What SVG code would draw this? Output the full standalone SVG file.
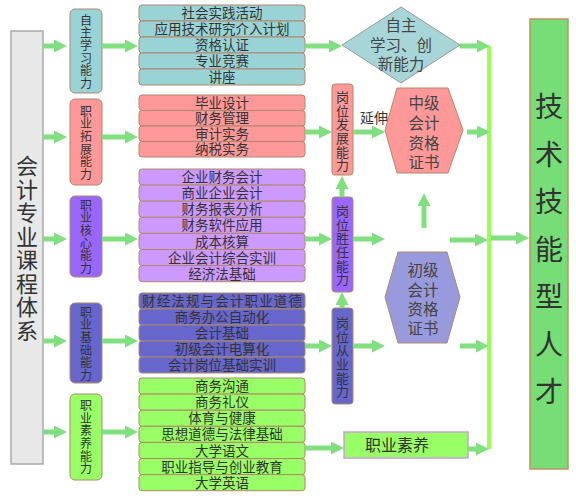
<svg xmlns="http://www.w3.org/2000/svg" width="576" height="500" viewBox="0 0 576 500">
<style>
text{font-family:"Noto Sans CJK SC","Liberation Sans",sans-serif;fill:#333;text-anchor:middle}
.v{writing-mode:vertical-rl}
.row{stroke:#b08868;stroke-width:1}
.t{fill:#99d3d6}.r{fill:#ff9999}.p{fill:#cc99ff}.b{fill:#6666cc}.g{fill:#99ff66}
.cp{font-size:12px;letter-spacing:0.6px}
.rt{font-size:13.5px;font-family:"Liberation Sans","Noto Sans CJK SC",sans-serif}
.ml{font-size:15.5px;font-family:"Liberation Sans","Noto Sans CJK SC",sans-serif;fill:#444}
.vb{font-size:13px;letter-spacing:0.6px}
.ar{stroke:#80e080;stroke-width:5;fill:none;marker-end:url(#ah)}
</style>
<defs>
<marker id="ah" markerUnits="userSpaceOnUse" markerWidth="13" markerHeight="13" refX="0" refY="6.5" orient="auto">
<path d="M0,0 L13,6.5 L0,13 Z" fill="#80e080"/>
</marker>
</defs>
<rect x="0" y="0" width="576" height="500" fill="#fff"/>

<g id="root">
<rect x="11" y="31" width="32" height="433" fill="#e8e8e8" stroke="#aaa" stroke-width="1.5"/>
<text class="v" x="27" y="249" style="font-size:22px;letter-spacing:1.5px" fill="#222">会计专业课程体系</text>
</g>

<g id="c1"><rect class="row t" x="70" y="9" width="32" height="84" rx="5"/>
<text class="v cp" x="86" y="52">自主学习能力</text></g>
<g id="c2"><rect class="row r" x="70" y="99" width="32" height="86" rx="5"/>
<text class="v cp" x="86" y="143">职业拓展能力</text></g>
<g id="c3"><rect class="row" fill="#9966ff" x="70" y="196" width="32" height="81" rx="5"/>
<text class="v cp" x="86" y="237">职业核心能力</text></g>
<g id="c4"><rect class="row b" x="70" y="303" width="32" height="80" rx="5"/>
<text class="v cp" x="86" y="344">职业基础能力</text></g>
<g id="c5"><rect class="row g" x="70" y="394" width="32" height="86" rx="5"/>
<text class="v cp" x="86" y="437.5">职业素养能力</text></g>

<g id="list1">
<rect class="row t" x="139" y="5" width="166" height="16" rx="3"/><text class="rt" x="222" y="18">社会实践活动</text>
<rect class="row t" x="139" y="21" width="166" height="16" rx="3"/><text class="rt" x="222" y="34">应用技术研究介入计划</text>
<rect class="row t" x="139" y="37" width="166" height="16" rx="3"/><text class="rt" x="222" y="50">资格认证</text>
<rect class="row t" x="139" y="53" width="166" height="16" rx="3"/><text class="rt" x="222" y="66">专业竞赛</text>
<rect class="row t" x="139" y="69" width="166" height="16" rx="3"/><text class="rt" x="222" y="82">讲座</text>
</g>
<g id="list2">
<rect class="row r" x="139" y="95" width="166" height="15.5" rx="3"/><text class="rt" x="222" y="107.5">毕业设计</text>
<rect class="row r" x="139" y="110.5" width="166" height="15.5" rx="3"/><text class="rt" x="222" y="123">财务管理</text>
<rect class="row r" x="139" y="126" width="166" height="15.5" rx="3"/><text class="rt" x="222" y="138.5">审计实务</text>
<rect class="row r" x="139" y="141.5" width="166" height="15.5" rx="3"/><text class="rt" x="222" y="154">纳税实务</text>
</g>
<g id="list3">
<rect class="row p" x="139" y="169" width="166" height="16.1" rx="3"/><text class="rt" x="222" y="182">企业财务会计</text>
<rect class="row p" x="139" y="185.1" width="166" height="16.1" rx="3"/><text class="rt" x="222" y="198">商业企业会计</text>
<rect class="row p" x="139" y="201.2" width="166" height="16.1" rx="3"/><text class="rt" x="222" y="214">财务报表分析</text>
<rect class="row p" x="139" y="217.3" width="166" height="16.1" rx="3"/><text class="rt" x="222" y="230">财务软件应用</text>
<rect class="row p" x="139" y="233.4" width="166" height="16.1" rx="3"/><text class="rt" x="222" y="246.5">成本核算</text>
<rect class="row p" x="139" y="249.5" width="166" height="16.1" rx="3"/><text class="rt" x="222" y="262.5">企业会计综合实训</text>
<rect class="row p" x="139" y="265.6" width="166" height="16.1" rx="3"/><text class="rt" x="222" y="278.5">经济法基础</text>
</g>
<g id="list4">
<rect class="row b" x="139" y="293" width="166" height="16" rx="3"/><text class="rt" x="222" y="306" textLength="160">财经法规与会计职业道德</text>
<rect class="row b" x="139" y="309" width="166" height="16" rx="3"/><text class="rt" x="222" y="322">商务办公自动化</text>
<rect class="row b" x="139" y="325" width="166" height="16" rx="3"/><text class="rt" x="222" y="338">会计基础</text>
<rect class="row b" x="139" y="341" width="166" height="16" rx="3"/><text class="rt" x="222" y="354">初级会计电算化</text>
<rect class="row b" x="139" y="357" width="166" height="16" rx="3"/><text class="rt" x="222" y="370">会计岗位基础实训</text>
</g>
<g id="list5">
<rect class="row g" x="139" y="378" width="166" height="16.1" rx="3"/><text class="rt" x="222" y="391">商务沟通</text>
<rect class="row g" x="139" y="394.1" width="166" height="16.1" rx="3"/><text class="rt" x="222" y="407">商务礼仪</text>
<rect class="row g" x="139" y="410.2" width="166" height="16.1" rx="3"/><text class="rt" x="222" y="423">体育与健康</text>
<rect class="row g" x="139" y="426.3" width="166" height="16.1" rx="3"/><text class="rt" x="222" y="439">思想道德与法律基础</text>
<rect class="row g" x="139" y="442.4" width="166" height="16.1" rx="3"/><text class="rt" x="222" y="455.5">大学语文</text>
<rect class="row g" x="139" y="458.5" width="166" height="16.1" rx="3"/><text class="rt" x="222" y="471.5">职业指导与创业教育</text>
<rect class="row g" x="139" y="474.6" width="166" height="16.1" rx="3"/><text class="rt" x="222" y="487.5">大学英语</text>
</g>

<g id="diamond">
<polygon points="342,45 401,7 460,45 401,83" fill="#a8d6d8" stroke="#999" stroke-width="1"/>
<text class="ml"><tspan x="401" y="31">自主</tspan><tspan x="401" y="51">学习、创</tspan><tspan x="401" y="70">新能力</tspan></text>
</g>

<g id="v1"><rect class="row r" x="332" y="84" width="21" height="91" rx="3"/>
<text class="v vb" x="342.5" y="131.5">岗位发展能力</text></g>
<g id="v2"><rect class="row" fill="#9966ff" x="332" y="197" width="21" height="95" rx="3"/>
<text class="v vb" x="342.5" y="245.5">岗位胜任能力</text></g>
<g id="v3"><rect class="row b" x="332" y="308" width="21" height="96" rx="3"/>
<text class="v vb" x="342.5" y="357.5">岗位从业能力</text></g>

<g id="mid"><polygon points="397,88 448,88 463,130 448,173 397,173 385,130" fill="#ff9999" stroke="#b08868" stroke-width="1"/>
<text class="ml"><tspan x="424" y="109">中级</tspan><tspan x="424" y="129">会计</tspan><tspan x="424" y="149">资格</tspan><tspan x="424" y="168">证书</tspan></text></g>
<g id="junior"><polygon points="398,252 447,252 460,297 447,343 398,343 385,297" fill="#9999dd" stroke="#b08868" stroke-width="1"/>
<text class="ml"><tspan x="423" y="276">初级</tspan><tspan x="423" y="296">会计</tspan><tspan x="423" y="315">资格</tspan><tspan x="423" y="334">证书</tspan></text></g>

<g id="quality"><rect x="344" y="432" width="124" height="26" fill="#99ff66" stroke="#c8a0d8" stroke-width="1.5"/>
<text font-size="16" fill="#444" x="397" y="451">职业素养</text></g>

<g id="talent"><rect x="530" y="19" width="38" height="450" fill="#77dd77" stroke="#c09060" stroke-width="1.5"/>
<text class="v" x="549" y="259" style="font-size:28px;letter-spacing:19.5px" fill="#111">技术技能型人才</text></g>

<g id="connectors">
<line x1="489" y1="46" x2="489" y2="449" stroke="#99ff55" stroke-width="4"/>
<line class="ar" x1="43" y1="46" x2="54" y2="46"/>
<line class="ar" x1="43" y1="137" x2="54" y2="137"/>
<line class="ar" x1="43" y1="239" x2="54" y2="239"/>
<line class="ar" x1="43" y1="341" x2="54" y2="341"/>
<line class="ar" x1="43" y1="432" x2="54" y2="432"/>
<line class="ar" x1="102" y1="46" x2="125" y2="46"/>
<line class="ar" x1="102" y1="137" x2="125" y2="137"/>
<line class="ar" x1="102" y1="239" x2="125" y2="239"/>
<line class="ar" x1="102" y1="341" x2="125" y2="341"/>
<line class="ar" x1="102" y1="432" x2="125" y2="432"/>
<line class="ar" x1="305" y1="46" x2="329" y2="46"/>
<line class="ar" x1="305" y1="132" x2="319" y2="132"/>
<line class="ar" x1="305" y1="239" x2="319" y2="239"/>
<line class="ar" x1="305" y1="346" x2="319" y2="346"/>
<line class="ar" x1="305" y1="448" x2="331" y2="448"/>
<line class="ar" x1="460" y1="46" x2="477" y2="46"/>
<line class="ar" x1="353" y1="132" x2="372" y2="132"/>
<line class="ar" x1="467" y1="132" x2="477" y2="132"/>
<line class="ar" x1="353" y1="239" x2="372" y2="239"/>
<line class="ar" x1="450" y1="240" x2="475" y2="240"/>
<line class="ar" x1="491" y1="238" x2="516" y2="238"/>
<line class="ar" x1="353" y1="346" x2="372" y2="346"/>
<line class="ar" x1="460" y1="346" x2="476" y2="346"/>
<line class="ar" x1="468" y1="449" x2="476" y2="449"/>
<line class="ar" x1="342" y1="197" x2="342" y2="189"/>
<line class="ar" x1="342" y1="308" x2="342" y2="305"/>
<line class="ar" x1="424" y1="228" x2="424" y2="206"/>
<text font-size="14" fill="#333" x="374" y="123">延伸</text>
</g>
</svg>
